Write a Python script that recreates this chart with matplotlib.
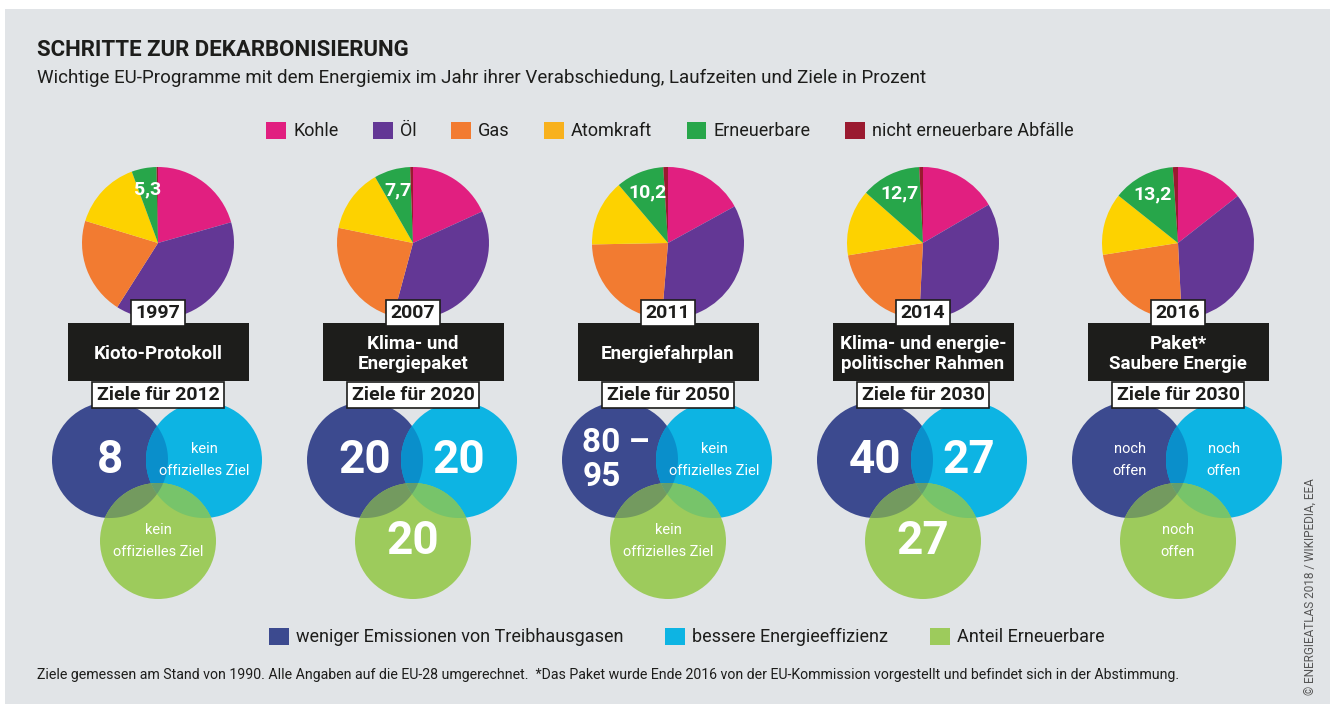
import numpy as np
import matplotlib.pyplot as plt
from matplotlib.patches import Circle, Rectangle, Polygon, Patch

plt.rcParams['font.family'] = ['Roboto', 'DejaVu Sans']

# --- data ---
years = ['1997', '2007', '2011', '2014', '2016']
programs = ['Kioto-Protokoll', 'Klima- und\nEnergiepaket', 'Energiefahrplan',
            'Klima- und energie-\npolitischer Rahmen', 'Paket*\nSaubere Energie']
target_labels = ['Ziele für 2012', 'Ziele für 2020', 'Ziele für 2050',
                 'Ziele für 2030', 'Ziele für 2030']

sources = ['Kohle', 'Öl', 'Gas', 'Atomkraft', 'Erneuerbare', 'nicht erneuerbare Abfälle']
kohle = [20.6, 18.2, 17.0, 16.6, 14.4]
oel = [38.4, 36.0, 34.3, 34.2, 34.8]
gas = [20.7, 24.0, 23.4, 21.6, 23.3]
atom = [14.7, 13.5, 14.1, 14.1, 13.2]
erneuerbare = [5.3, 7.7, 10.2, 12.7, 13.2]
abfaelle = [0.3, 0.6, 1.0, 0.8, 1.1]

emissions = ['8', '20', '80 –\n95', '40', 'noch\noffen']
efficiency = ['kein\noffizielles Ziel', '20', 'kein\noffizielles Ziel', '27', 'noch\noffen']
renewables = ['kein\noffizielles Ziel', '20', 'kein\noffizielles Ziel', '27', 'noch\noffen']

target_names = ['weniger Emissionen von Treibhausgasen', 'bessere Energieeffizienz',
                'Anteil Erneuerbare']

# --- style ---
pie_colors = ['#e11f80', '#633795', '#f27b31', '#fdd200', '#27a64a', '#9a1a30']
legend_colors = ['#e11f80', '#633795', '#f27b31', '#f8b11d', '#27a64a', '#9a1a30']
c_em, c_eff, c_ren = '#3c4a8f', '#0db4e3', '#9dcb5c'
c_ab, c_ac, c_bc, c_abc = '#0a8fcb', '#739a5f', '#77c46a', '#639d6e'
bg = '#e1e4e7'
ink = '#1d1d1b'

W, H = 1330, 704
fig = plt.figure(figsize=(W / 100, H / 100), dpi=100)
ax = fig.add_axes([0, 0, 1, 1])


def Y(y):
    return H - y


def region(centers, r, n=600):
    # boundary of the intersection of equal circles
    t = np.linspace(0, 2 * np.pi, n, endpoint=False)
    pts = []
    for c in centers:
        p = np.c_[c[0] + r * np.cos(t), c[1] + r * np.sin(t)]
        ok = np.all([np.hypot(p[:, 0] - o[0], p[:, 1] - o[1]) <= r + 1e-6 for o in centers], axis=0)
        pts.append(p[ok])
    pts = np.vstack(pts)
    m = pts.mean(0)
    return pts[np.argsort(np.arctan2(pts[:, 1] - m[1], pts[:, 0] - m[0]))]


ax.add_patch(Rectangle((5, 0), W - 5, H - 9, fc=bg, ec='none', zorder=0))

R = 76
rv = 58
for i in range(5):
    cx = 158 + 255 * i
    cy = Y(243)
    vals = [kohle[i], oel[i], gas[i], atom[i], erneuerbare[i], abfaelle[i]]
    wedges, _ = ax.pie(vals, colors=pie_colors, startangle=90, counterclock=False,
                       center=(cx, cy), radius=R, frame=True,
                       wedgeprops=dict(linewidth=0))
    w = wedges[4]
    th = np.deg2rad((w.theta1 + w.theta2) / 2)
    ax.text(cx + 0.72 * R * np.cos(th), cy + 0.72 * R * np.sin(th),
            f'{erneuerbare[i]:.1f}'.replace('.', ','), color='white', fontsize=14,
            weight='bold', ha='center', va='center', zorder=5)

    # year box, program band, target box
    ax.add_patch(Rectangle((cx - 90, Y(381)), 181, 58, fc=ink, ec='none', zorder=4))
    ax.text(cx, Y(354), programs[i], color='white', fontsize=13.5, weight='bold',
            ha='center', va='center', linespacing=1.1, zorder=5)
    ax.text(cx, Y(313), years[i], color=ink, fontsize=14, weight='bold', ha='center',
            va='center', zorder=6,
            bbox=dict(boxstyle='square,pad=0.22', fc='white', ec=ink, lw=1.2))
    ax.text(cx, Y(395), target_labels[i], color=ink, fontsize=14, weight='bold',
            ha='center', va='center', zorder=6,
            bbox=dict(boxstyle='square,pad=0.22', fc='white', ec=ink, lw=1.2))

    # venn circles
    A = (cx - 48, Y(460))
    B = (cx + 46, Y(460))
    C = (cx, Y(541))
    for c, col in [(A, c_em), (B, c_eff), (C, c_ren)]:
        ax.add_patch(Circle(c, rv, fc=col, ec='none', zorder=2))
    for cs, col in [([A, B], c_ab), ([A, C], c_ac), ([B, C], c_bc), ([A, B, C], c_abc)]:
        ax.add_patch(Polygon(region(cs, rv), closed=True, fc=col, ec='none', zorder=3))

    for c, txt in [(A, emissions[i]), (B, efficiency[i]), (C, renewables[i])]:
        if txt[0].isdigit():
            fs = 24 if '\n' in txt else 33
            ax.text(c[0] + (-4 if '\n' in txt else 0), c[1], txt, color='white', fontsize=fs,
                    weight='bold', ha='center', va='center', multialignment='left',
                    linespacing=1.05, zorder=5)
        else:
            ax.text(c[0], c[1], txt, color='white', fontsize=10.5, ha='center',
                    va='center', linespacing=1.7, zorder=5)

ax.set_xlim(0, W)
ax.set_ylim(0, H)
ax.set_aspect('auto')
ax.axis('off')

# titles
ax.text(37, Y(50), 'SCHRITTE ZUR DEKARBONISIERUNG', fontsize=16, weight='bold',
        color=ink, va='center')
ax.text(37, Y(78), 'Wichtige EU-Programme mit dem Energiemix im Jahr ihrer Verabschiedung, '
        'Laufzeiten und Ziele in Prozent', fontsize=13.5, color=ink, va='center')

h1 = [Patch(fc=c, ec='none') for c in legend_colors]
fig.legend(h1, sources, loc='center', bbox_to_anchor=(670 / W, 1 - 131 / H), ncol=6,
           frameon=False, fontsize=13, handlelength=1.1, handleheight=1.1,
           handletextpad=0.4, columnspacing=1.9, labelcolor=ink)

h2 = [Patch(fc=c, ec='none') for c in [c_em, c_eff, c_ren]]
fig.legend(h2, target_names, loc='center', bbox_to_anchor=(687 / W, 1 - 637 / H), ncol=3,
           frameon=False, fontsize=13, handlelength=1.1, handleheight=1.1,
           handletextpad=0.4, columnspacing=2.3, labelcolor=ink)

ax.text(37, Y(675), 'Ziele gemessen am Stand von 1990. Alle Angaben auf die EU-28 umgerechnet.  '
        '*Das Paket wurde Ende 2016 von der EU-Kommission vorgestellt und befindet sich in der Abstimmung.',
        fontsize=10.15, color=ink, va='center')
ax.text(1311, Y(695), '© ENERGIEATLAS 2018 / WIKIPEDIA, EEA', rotation=90, fontsize=8.5,
        color='#555555', ha='center', va='bottom')

fig.savefig('out.png', dpi=100, facecolor='white')
